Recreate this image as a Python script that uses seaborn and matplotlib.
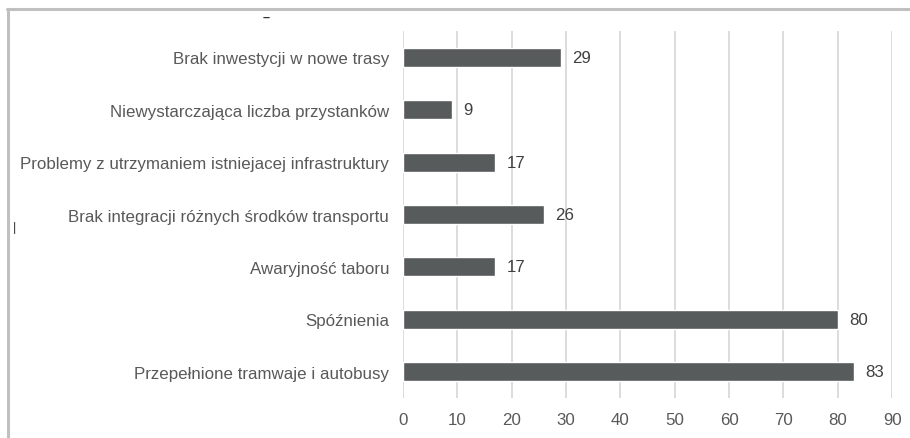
import matplotlib
matplotlib.use("Agg")
import matplotlib.pyplot as plt
import seaborn as sns
import pandas as pd

categories = [
    "Brak inwestycji w nowe trasy",
    "Niewystarczająca liczba przystanków",
    "Problemy z utrzymaniem istniejacej infrastruktury",
    "Brak integracji różnych środków transportu",
    "Awaryjność taboru",
    "Spóźnienia",
    "Przepełnione tramwaje i autobusy",
]
values = [29, 9, 17, 26, 17, 80, 83]
x_ticks = [0, 10, 20, 30, 40, 50, 60, 70, 80, 90]

sns.set_theme(style="white")
plt.rcParams["font.family"] = ["Liberation Sans", "DejaVu Sans"]

df = pd.DataFrame({"category": categories, "value": values})

fig = plt.figure(figsize=(9.10, 4.39), dpi=100)
ax = fig.add_axes([0.4429, 0.0911, 0.5374, 0.8360])

bar_color = "#575b5b"
sns.barplot(data=df, x="value", y="category", orient="h", color=bar_color,
            width=0.36, saturation=1, ax=ax, zorder=3)

ax.set_xlim(0, 90)
ax.set_xticks(x_ticks)
ax.set_xticklabels([str(t) for t in x_ticks])
ax.set_xlabel("")
ax.set_ylabel("")
ax.grid(axis="x", color="#d9d9d9", linewidth=1.3, zorder=0)
ax.grid(axis="y", visible=False)
for s in ax.spines.values():
    s.set_visible(False)
ax.tick_params(axis="x", length=0, pad=10, labelsize=12.2, labelcolor="#595959")
ax.tick_params(axis="y", length=0, pad=10, labelsize=12.2, labelcolor="#595959")

for container in ax.containers:
    ax.bar_label(container, labels=[str(v) for v in values], padding=8,
                 fontsize=12.2, color="#404040")

# outer chart frame (top and left edges)
fig.add_artist(plt.Line2D([7 / 910, 1.0], [1 - 10 / 439, 1 - 10 / 439],
                          transform=fig.transFigure, color="#c0c0c0", linewidth=2.2))
fig.add_artist(plt.Line2D([8 / 910, 8 / 910], [1 - 10 / 439, 0.0],
                          transform=fig.transFigure, color="#c0c0c0", linewidth=2.2))

# leftover marks of title and axis title
fig.text(266 / 910, 1 - 18 / 439, "–", ha="center", va="center", fontsize=9,
         color="#303030", fontweight="bold")
fig.text(15 / 910, 1 - 228 / 439, "|", ha="center", va="center", fontsize=9,
         color="#303030")

fig.savefig("out.png", dpi=100, facecolor="white")
